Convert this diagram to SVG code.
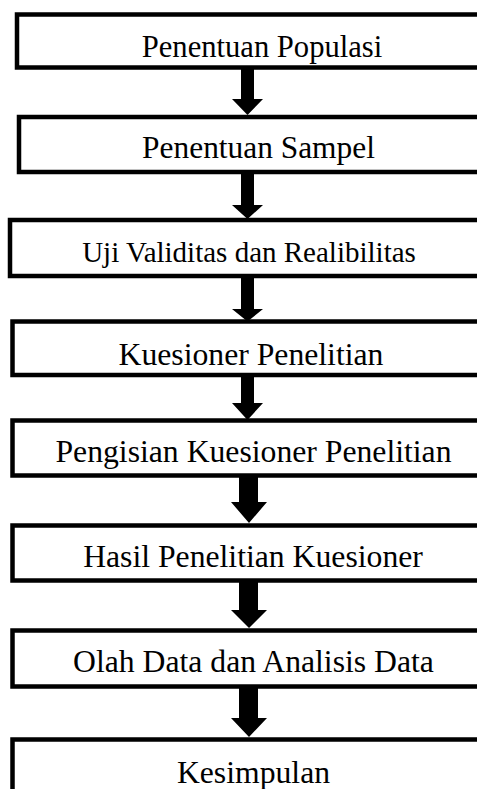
<svg xmlns="http://www.w3.org/2000/svg" width="477" height="789" viewBox="0 0 477 789">
<style>
.box{fill:#fff;stroke:#000;stroke-width:4.5}
.lbl{font-family:"Liberation Serif","Times New Roman",serif;font-size:31.7px;fill:#000;text-anchor:middle}
.arr{fill:#000}
</style>
<rect width="477" height="789" fill="#fff"/>
<g id="n1"><rect class="box" x="17" y="14.5" width="480" height="53"/><text class="lbl" x="262" y="57" style="font-size:30.6px">Penentuan Populasi</text></g>
<g id="n2"><rect class="box" x="19" y="117" width="480" height="55"/><text class="lbl" x="258.5" y="158" style="font-size:31.4px">Penentuan Sampel</text></g>
<g id="n3"><rect class="box" x="10" y="220" width="480" height="56"/><text class="lbl" x="249" y="262" style="font-size:29px">Uji Validitas dan Realibilitas</text></g>
<g id="n4"><rect class="box" x="12.5" y="321.5" width="480" height="53.5"/><text class="lbl" x="251" y="365">Kuesioner Penelitian</text></g>
<g id="n5"><rect class="box" x="12.5" y="420.5" width="480" height="55"/><text class="lbl" x="253.5" y="462">Pengisian Kuesioner Penelitian</text></g>
<g id="n6"><rect class="box" x="12.5" y="525.5" width="480" height="55"/><text class="lbl" x="253" y="567">Hasil Penelitian Kuesioner</text></g>
<g id="n7"><rect class="box" x="12.5" y="630.5" width="480" height="56"/><text class="lbl" x="253.5" y="672">Olah Data dan Analisis Data</text></g>
<g id="n8"><rect class="box" x="12.5" y="739.5" width="480" height="80"/><text class="lbl" x="253.5" y="783">Kesimpulan</text></g>
<g id="connectors">
<polygon class="arr" points="241,67 254,67 254,99 263,99 247.5,115 232,99 241,99"/>
<polygon class="arr" points="241,172 254,172 254,205 263,205 247.5,219 232,205 241,205"/>
<polygon class="arr" points="241,276 254,276 254,309 263,309 247.5,321.5 232,309 241,309"/>
<polygon class="arr" points="241,375 254,375 254,403 263,403 247.5,420 232,403 241,403"/>
<polygon class="arr" points="239,475 258,475 258,502 267,502 249,523 231,502 239,502"/>
<polygon class="arr" points="239,580 258,580 258,610 267,610 249,628 231,610 239,610"/>
<polygon class="arr" points="239,686 258,686 258,718 267,718 249,737 231,718 239,718"/>
</g>
</svg>
